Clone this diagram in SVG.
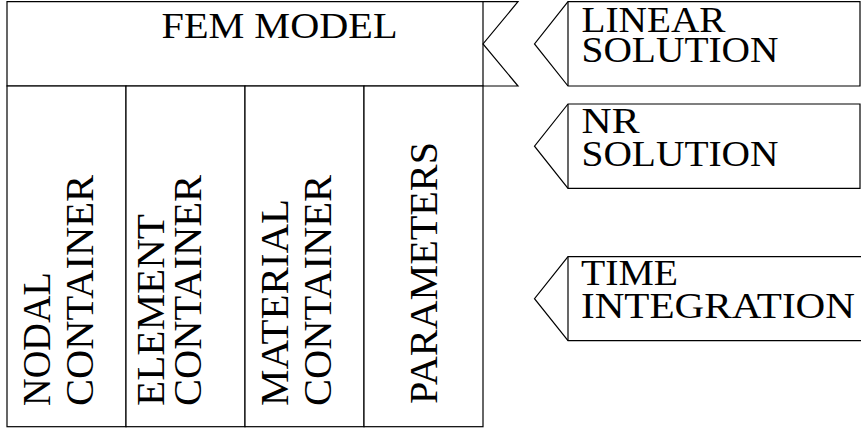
<svg xmlns="http://www.w3.org/2000/svg" width="861" height="430" viewBox="0 0 861 430">
<style>
.s{fill:#fff;stroke:#000;stroke-width:1.2;stroke-linejoin:miter}
.l{fill:none;stroke:#000;stroke-width:1.2}
.t{font-family:"Liberation Serif","Times New Roman",serif;font-size:35px;fill:#000}
.v{font-family:"Liberation Serif","Times New Roman",serif;font-size:41px;fill:#000}
</style>
<rect width="861" height="430" fill="#fff"/>
<g id="fem-model">
<polygon class="s" points="7,1.7 518,1.7 483,43.9 518,86 7,86"/>
<line class="l" x1="483" y1="1.7" x2="483" y2="86"/>
<text class="t" x="161.5" y="37.7" textLength="236" lengthAdjust="spacingAndGlyphs">FEM MODEL</text>
</g>
<g id="nodal-container">
<rect class="s" x="7" y="86" width="119" height="340.7"/>
<text class="v" transform="translate(50,406) rotate(-90)" x="0" y="0" textLength="134" lengthAdjust="spacingAndGlyphs">NODAL</text>
<text class="v" transform="translate(93,406) rotate(-90)" x="0" y="0" textLength="231" lengthAdjust="spacingAndGlyphs">CONTAINER</text>
</g>
<g id="element-container">
<rect class="s" x="126" y="86" width="119" height="340.7"/>
<text class="v" transform="translate(164,406) rotate(-90)" x="0" y="0" textLength="192" lengthAdjust="spacingAndGlyphs">ELEMENT</text>
<text class="v" transform="translate(201,406) rotate(-90)" x="0" y="0" textLength="231" lengthAdjust="spacingAndGlyphs">CONTAINER</text>
</g>
<g id="material-container">
<rect class="s" x="245" y="86" width="119" height="340.7"/>
<text class="v" transform="translate(287.5,406) rotate(-90)" x="0" y="0" textLength="207" lengthAdjust="spacingAndGlyphs">MATERIAL</text>
<text class="v" transform="translate(331,406) rotate(-90)" x="0" y="0" textLength="231" lengthAdjust="spacingAndGlyphs">CONTAINER</text>
</g>
<g id="parameters">
<rect class="s" x="364" y="86" width="119" height="340.7"/>
<text class="v" transform="translate(436.7,404) rotate(-90)" x="0" y="0" textLength="262" lengthAdjust="spacingAndGlyphs">PARAMETERS</text>
</g>
<g id="linear-solution">
<path class="s" d="M568,1.7 H860 V86 H568 L534.5,43.9 Z"/>
<line class="l" x1="568" y1="1.7" x2="568" y2="86"/>
<text class="t" x="581.5" y="31.7" textLength="144" lengthAdjust="spacingAndGlyphs">LINEAR</text>
<text class="t" x="581.5" y="61.5" textLength="197" lengthAdjust="spacingAndGlyphs">SOLUTION</text>
</g>
<g id="nr-solution">
<path class="s" d="M568,104 H860 V188.3 H568 L534.5,146.2 Z"/>
<line class="l" x1="568" y1="104" x2="568" y2="188.3"/>
<text class="t" x="581.5" y="133.3" textLength="58" lengthAdjust="spacingAndGlyphs">NR</text>
<text class="t" x="581.5" y="165.5" textLength="197" lengthAdjust="spacingAndGlyphs">SOLUTION</text>
</g>
<g id="time-integration">
<path class="s" d="M568,256.7 H880 V340.7 H568 L534.5,298.7 Z"/>
<line class="l" x1="568" y1="256.7" x2="568" y2="340.7"/>
<text class="t" x="581" y="285" textLength="97" lengthAdjust="spacingAndGlyphs">TIME</text>
<text class="t" x="581" y="318.3" textLength="274" lengthAdjust="spacingAndGlyphs">INTEGRATION</text>
</g>
<g id="connectors"/>
</svg>
